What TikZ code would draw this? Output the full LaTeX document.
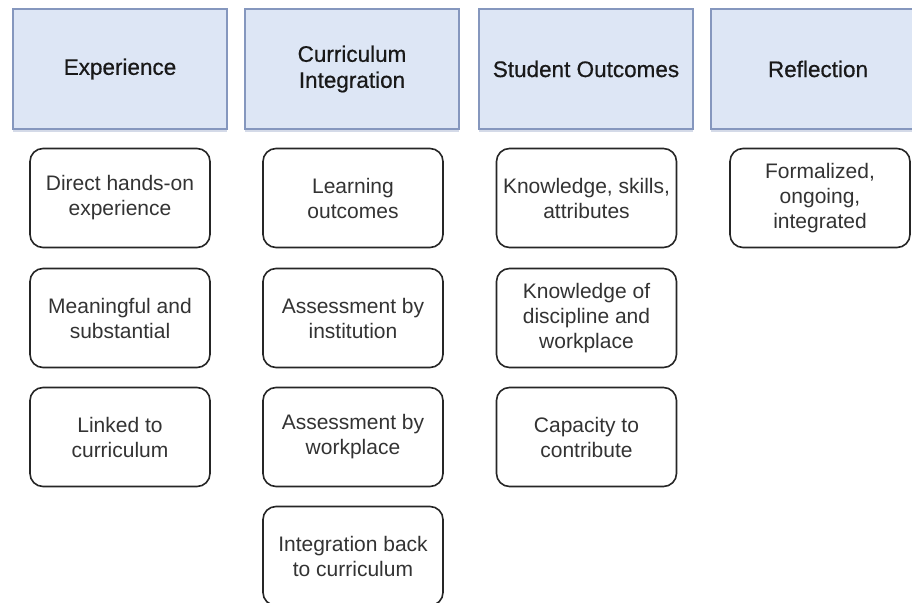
\documentclass[tikz,border=0pt]{standalone}
\usepackage{fontspec}
\setmainfont{Liberation Sans}
\newfontfamily\headfont[FakeBold=0.6]{Liberation Sans}
\usetikzlibrary{shadows}
\definecolor{headfill}{HTML}{DDE6F5}
\definecolor{headborder}{HTML}{8597BE}
\definecolor{txt}{HTML}{333333}
\begin{document}
\begin{tikzpicture}[x=1pt,y=-1pt,
  head/.style={draw=headborder, fill=headfill, line width=1.6pt,
    minimum width=214pt, minimum height=120pt, inner sep=0pt,
    align=center, text=black!90, font=\headfont\fontsize{22.5}{26}\selectfont,
    drop shadow={shadow xshift=0pt, shadow yshift=-2.5pt, opacity=0.35, fill=headborder}},
  item/.style={draw=black!85, fill=white, rounded corners=13pt, line width=1.6pt,
    minimum width=180pt, minimum height=99pt, inner sep=0pt,
    align=center, text=txt, font=\fontsize{21}{25}\selectfont}]
\useasboundingbox (0,0) rectangle (912,602);
\clip (0,0) rectangle (912,602);
\fill[white] (0,0) rectangle (912,602);
% headers
\node[head] (h1) at (120,69) {Experience};
\node[head] (h2) at (352,69) {Curriculum\\Integration};
\node[head] (h3) at (586,69) {Student Outcomes};
\node[head] (h4) at (818,69) {Reflection};
% column 1
\node[item] (a1) at (120,198) {Direct hands-on\\experience};
\node[item] (a2) at (120,318) {Meaningful and\\substantial};
\node[item] (a3) at (120,437) {Linked to\\curriculum};
% column 2
\node[item] (b1) at (353,198) {Learning\\outcomes};
\node[item] (b2) at (353,318) {Assessment by\\institution};
\node[item] (b3) at (353,437) {Assessment by\\workplace};
\node[item] (b4) at (353,556) {Integration back\\to curriculum};
% column 3
\node[item] (c1) at (586.5,198) {Knowledge, skills,\\attributes};
\node[item] (c2) at (586.5,318) {Knowledge of\\discipline and\\workplace};
\node[item] (c3) at (586.5,437) {Capacity to\\contribute};
% column 4
\node[item] (d1) at (820,198) {Formalized,\\ongoing,\\integrated};
\end{tikzpicture}
\end{document}
